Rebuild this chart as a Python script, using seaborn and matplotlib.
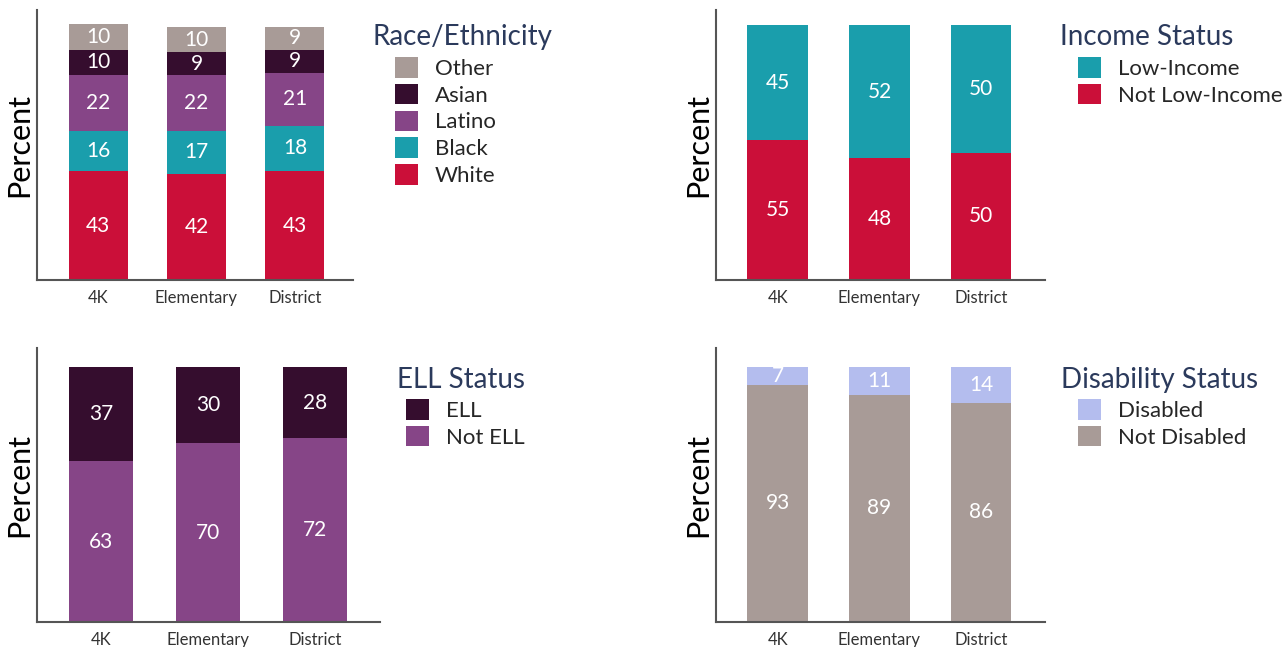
import matplotlib
matplotlib.use("Agg")
import matplotlib.pyplot as plt
import seaborn as sns
import pandas as pd
from matplotlib.patches import Patch

schools = ["4K", "Elementary", "District"]

# Race/Ethnicity (bottom to top)
race_groups = ["White", "Black", "Latino", "Asian", "Other"]
race_white = [43, 42, 43]
race_black = [16, 17, 18]
race_latino = [22, 22, 21]
race_asian = [10, 9, 9]
race_other = [10, 10, 9]

# Income status (bottom to top)
income_groups = ["Not Low-Income", "Low-Income"]
income_not_low = [55, 48, 50]
income_low = [45, 52, 50]

# ELL status (bottom to top)
ell_groups = ["Not ELL", "ELL"]
ell_not = [63, 70, 72]
ell_yes = [37, 30, 28]

# Disability status (bottom to top)
dis_groups = ["Not Disabled", "Disabled"]
dis_not = [93, 89, 86]
dis_yes = [7, 11, 14]

C_OTHER = "#a89b97"
C_ASIAN = "#350d2e"
C_LATINO = "#864587"
C_BLACK = "#1a9eac"
C_WHITE = "#cb0f39"
C_DIS = "#b4bdee"
TITLE_COLOR = "#2b3a5c"

sns.set_theme(style="white")
plt.rcParams["font.family"] = ["Lato", "DejaVu Sans"]

fig = plt.figure(figsize=(12.87, 6.47), dpi=100)

W, H = 1287.0, 647.0


def axes_px(left, right, top, bottom):
    return fig.add_axes([left / W, (H - bottom) / H, (right - left) / W, (bottom - top) / H])


def stacked(ax, layers, names, colors, ymax, xlim):
    # layers bottom->top; draw cumulative bars from tallest to shortest
    cums = []
    running = [0] * len(schools)
    for vals in layers:
        bottoms = list(running)
        running = [r + v for r, v in zip(running, vals)]
        cums.append((bottoms, list(running)))
    for i in reversed(range(len(layers))):
        df = pd.DataFrame({"school": schools, "value": cums[i][1]})
        sns.barplot(data=df, x="school", y="value", order=schools, color=colors[i],
                    width=0.6, linewidth=0, saturation=1, ax=ax, errorbar=None)
    for i, vals in enumerate(layers):
        bottoms = cums[i][0]
        for j, v in enumerate(vals):
            ax.text(j, bottoms[j] + v / 2.0, str(v), ha="center", va="center",
                    color="white", fontsize=15)
    ax.set_ylim(0, ymax)
    ax.set_xlim(*xlim)
    ax.set_yticks([])
    ax.set_xlabel("")
    ax.set_ylabel("Percent", fontsize=22, color="black", labelpad=3)
    ax.tick_params(axis="x", length=0, pad=7.5, labelsize=12, labelcolor="#333333")
    sns.despine(ax=ax)
    for s in ["left", "bottom"]:
        ax.spines[s].set_color("#555555")
        ax.spines[s].set_linewidth(1.5)


def legend(title, tx, ty, hx, hy, names, colors):
    fig.text(tx / W, (H - ty) / H, title, fontsize=20, color=TITLE_COLOR,
             ha="left", va="center")
    handles = [Patch(facecolor=c, edgecolor="none") for c in colors]
    fig.legend(handles, names, loc="upper left", bbox_to_anchor=(hx / W, (H - hy) / H),
               frameon=False, fontsize=16, handlelength=1.05, handleheight=1.05,
               handletextpad=0.75, labelspacing=0.22, borderpad=0, borderaxespad=0)


# Top-left: Race/Ethnicity
ax1 = axes_px(37, 353, 10, 280)
stacked(ax1, [race_white, race_black, race_latino, race_asian, race_other], race_groups,
        [C_WHITE, C_BLACK, C_LATINO, C_ASIAN, C_OTHER], 106.7, (-0.62, 2.59))
legend("Race/Ethnicity", 373, 37, 395, 57,
       race_groups[::-1], [C_OTHER, C_ASIAN, C_LATINO, C_BLACK, C_WHITE])

# Top-right: Income
ax2 = axes_px(716, 1045, 10, 280)
stacked(ax2, [income_not_low, income_low], income_groups,
        [C_WHITE, C_BLACK], 106, (-0.61, 2.63))
legend("Income Status", 1060, 37, 1078, 57,
       income_groups[::-1], [C_BLACK, C_WHITE])

# Bottom-left: ELL
ax3 = axes_px(37, 380, 348, 622)
stacked(ax3, [ell_not, ell_yes], ell_groups,
        [C_LATINO, C_ASIAN], 107.4, (-0.6, 2.61))
legend("ELL Status", 397, 380, 406, 399,
       ell_groups[::-1], [C_ASIAN, C_LATINO])

# Bottom-right: Disability
ax4 = axes_px(716, 1045, 348, 622)
stacked(ax4, [dis_not, dis_yes], dis_groups,
        [C_OTHER, C_DIS], 107.4, (-0.61, 2.63))
legend("Disability Status", 1061, 380, 1078, 399,
       dis_groups[::-1], [C_DIS, C_OTHER])

fig.savefig("out.png", dpi=100)
